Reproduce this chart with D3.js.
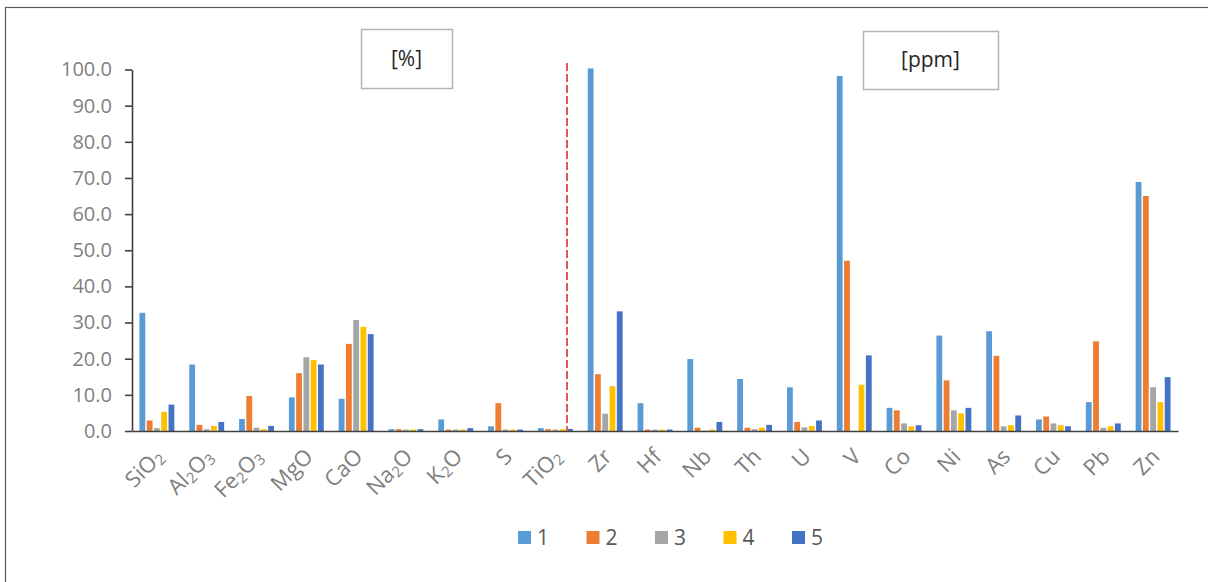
<!DOCTYPE html>
<html>
<head>
<meta charset="utf-8">
<script src="https://cdn.jsdelivr.net/npm/d3@7/dist/d3.min.js"></script>
<style>
  body { margin: 0; background: #fff; }
  svg { display: block; font-family: "Open Sans", "Noto Sans", sans-serif; }
</style>
</head>
<body>
<div id="chart"></div>
<script>
// element names, digits are drawn as subscripts
var categories = ["SiO2", "Al2O3", "Fe2O3", "MgO", "CaO", "Na2O", "K2O", "S", "TiO2",
                  "Zr", "Hf", "Nb", "Th", "U", "V", "Co", "Ni", "As", "Cu", "Pb", "Zn"];
var seriesNames = ["1", "2", "3", "4", "5"];
var seriesColors = ["#5B9BD5", "#ED7D31", "#A5A5A5", "#FFC000", "#4472C4"];

// one array per sample, same order as categories
var s1 = [32.7, 18.4, 3.3, 9.3, 8.9, 0.5, 3.2, 1.3, 0.8, 100.3, 7.7, 19.9, 14.4, 12.1, 98.2, 6.4, 26.4, 27.6, 3.2, 8.0, 68.9];
var s2 = [2.9, 1.7, 9.7, 16.0, 24.1, 0.5, 0.4, 7.7, 0.5, 15.7, 0.4, 0.9, 0.9, 2.5, 47.1, 5.7, 14.0, 20.8, 4.0, 24.8, 65.0];
var s3 = [0.8, 0.5, 0.9, 20.4, 30.7, 0.4, 0.4, 0.4, 0.4, 4.8, 0.4, 0.1, 0.5, 1.0, 0.0, 2.1, 5.7, 1.3, 2.1, 0.9, 12.1];
var s4 = [5.3, 1.4, 0.5, 19.6, 28.8, 0.4, 0.4, 0.4, 0.5, 12.4, 0.4, 0.4, 0.9, 1.4, 12.8, 1.3, 4.9, 1.6, 1.6, 1.3, 8.0];
var s5 = [7.3, 2.5, 1.4, 18.4, 26.8, 0.5, 0.8, 0.4, 0.6, 33.1, 0.4, 2.5, 1.7, 2.9, 20.9, 1.6, 6.4, 4.3, 1.3, 2.1, 14.9];
var series = [s1, s2, s3, s4, s5];

var yTicks = [0, 10, 20, 30, 40, 50, 60, 70, 80, 90, 100];
var unitLabels = ["[%]", "[ppm]"];
var splitAfter = "TiO2";   // dashed separator between oxides and trace elements

var W = 1208, H = 582;
var plotL = 132, plotR = 1178, plotT = 69.5, plotB = 431;

var svg = d3.select("#chart").append("svg")
    .attr("width", W)
    .attr("height", H);

// outer frame
svg.append("rect")
    .attr("x", 5.5).attr("y", 7.5)
    .attr("width", W).attr("height", H)
    .attr("fill", "none")
    .attr("stroke", "#595959")
    .attr("stroke-width", 1.2);

var x0 = d3.scaleBand().domain(categories).range([plotL, plotR]).padding(0);
var x1 = d3.scaleBand().domain(seriesNames).range([6, x0.bandwidth() - 6]).padding(0.2);
var y = d3.scaleLinear().domain([0, 100]).range([plotB, plotT]);

// bars
var rows = categories.map(function(c, i) {
    return { cat: c, vals: series.map(function(s, j) { return { key: seriesNames[j], v: s[i], color: seriesColors[j] }; }) };
});

var groups = svg.append("g").selectAll("g")
    .data(rows)
    .enter().append("g")
    .attr("transform", function(d) { return "translate(" + x0(d.cat) + ",0)"; });

groups.selectAll("rect")
    .data(function(d) { return d.vals; })
    .enter().append("rect")
    .attr("x", function(d) { return x1(d.key); })
    .attr("width", x1.bandwidth())
    .attr("y", function(d) { return y(d.v); })
    .attr("height", function(d) { return plotB - y(d.v); })
    .attr("fill", function(d) { return d.color; });

// y axis
var yAxis = svg.append("g")
    .attr("transform", "translate(" + plotL + ",0)")
    .call(d3.axisLeft(y).tickValues(yTicks).tickFormat(d3.format(".1f")).tickSize(7).tickSizeOuter(0).tickPadding(13));
yAxis.select(".domain").attr("stroke", "#404040").attr("stroke-width", 1.6);
yAxis.selectAll(".tick line").attr("stroke", "#404040").attr("stroke-width", 1.6);
yAxis.selectAll(".tick text")
    .attr("fill", "#7f7f7f")
    .style("font-size", "20px")
    .style("font-family", "'Open Sans', 'Noto Sans', sans-serif");

// x axis line
var xAxis = svg.append("g")
    .attr("transform", "translate(0," + plotB + ")")
    .call(d3.axisBottom(x0).tickSize(0).tickSizeOuter(0).tickFormat(""));
xAxis.select(".domain").attr("stroke", "#404040").attr("stroke-width", 1.6);
xAxis.selectAll(".tick").remove();

// rotated category labels with subscript digits
var labels = svg.append("g").selectAll("text")
    .data(categories)
    .enter().append("text")
    .attr("transform", function(d) {
        return "translate(" + (x0(d) + x0.bandwidth() / 2 + 8) + "," + (plotB + 27) + ") rotate(-45)";
    })
    .attr("text-anchor", "end")
    .attr("fill", "#7f7f7f")
    .style("font-size", "22px");

labels.each(function(d) {
    var t = d3.select(this);
    var parts = d.match(/[A-Za-z]+|\d+/g);
    var sub = false;
    parts.forEach(function(p) {
        var isNum = /^\d+$/.test(p);
        var ts = t.append("tspan").text(p);
        if (isNum) {
            ts.style("font-size", "15px").attr("dy", sub ? 0 : 3);
            sub = true;
        } else {
            if (sub) ts.attr("dy", -3);
            sub = false;
        }
    });
});

// dashed separator
var sepX = x0(splitAfter) + x1(seriesNames[4]);
svg.append("line")
    .attr("x1", sepX).attr("x2", sepX)
    .attr("y1", y(101.8)).attr("y2", plotB)
    .attr("stroke", "#E0575C")
    .attr("stroke-width", 2)
    .attr("stroke-dasharray", "8,3");

// unit boxes
var boxes = [
    { text: unitLabels[0], x: 361, y: 29, w: 91, h: 59 },
    { text: unitLabels[1], x: 863, y: 31, w: 135, h: 58 }
];
var box = svg.append("g").selectAll("g").data(boxes).enter().append("g");
box.append("rect")
    .attr("x", function(d) { return d.x + 0.5; })
    .attr("y", function(d) { return d.y + 0.5; })
    .attr("width", function(d) { return d.w; })
    .attr("height", function(d) { return d.h; })
    .attr("fill", "#fff")
    .attr("stroke", "#b4b4b4")
    .attr("stroke-width", 1.5);
box.append("text")
    .attr("x", function(d) { return d.x + d.w / 2; })
    .attr("y", function(d) { return d.y + d.h / 2 + 7; })
    .attr("text-anchor", "middle")
    .attr("fill", "#262626")
    .style("font-size", "21px")
    .text(function(d) { return d.text; });

// legend
var legend = svg.append("g").selectAll("g")
    .data(seriesNames)
    .enter().append("g")
    .attr("transform", function(d, i) { return "translate(" + (518 + i * 68.5) + ",531)"; });
legend.append("rect")
    .attr("width", 13).attr("height", 13)
    .attr("fill", function(d, i) { return seriesColors[i]; });
legend.append("text")
    .attr("x", 19).attr("y", 14)
    .attr("fill", "#595959")
    .style("font-size", "21px")
    .text(function(d) { return d; });
</script>
</body>
</html>
